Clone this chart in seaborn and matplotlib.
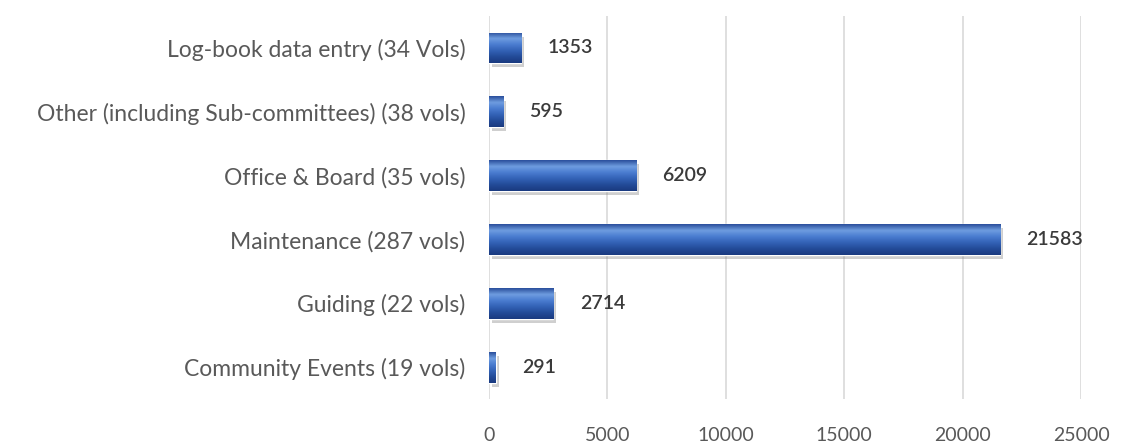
import numpy as np
import pandas as pd
import matplotlib
matplotlib.use("Agg")
import matplotlib.pyplot as plt
import matplotlib.patheffects as path_effects
from matplotlib.colors import LinearSegmentedColormap
import seaborn as sns

# --- Data ---
categories = [
    "Log-book data entry (34 Vols)",
    "Other (including Sub-committees) (38 vols)",
    "Office & Board (35 vols)",
    "Maintenance (287 vols)",
    "Guiding (22 vols)",
    "Community Events (19 vols)",
]
hours = [1353, 595, 6209, 21583, 2714, 291]
x_ticks = [0, 5000, 10000, 15000, 20000, 25000]

df = pd.DataFrame({"category": categories, "hours": hours})

# --- Style ---
sns.set_theme(style="white")
plt.rcParams['font.family'] = ['Lato', 'DejaVu Sans']

fig = plt.figure(figsize=(11.41, 4.44), dpi=100)
ax = fig.add_axes([0.4286, 0.101, 0.9475 - 0.4286, 0.863])

sns.barplot(data=df, x="hours", y="category", orient="h", color="#3a67b8",
            width=0.48, ax=ax, zorder=3)

# cylinder-like shading: light top, dark bottom
cyl = LinearSegmentedColormap.from_list(
    "cyl", ["#2a4f9c", "#6f9de0", "#4a7cd0", "#3362b6", "#234b98", "#1a3a80"])
grad = np.linspace(0, 1, 64).reshape(-1, 1)
shadow = [path_effects.SimplePatchShadow(offset=(2, -3), shadow_rgbFace="#888888", alpha=0.4),
          path_effects.Normal()]
for bar in ax.patches:
    x0, y0 = bar.get_x(), bar.get_y()
    w, h = bar.get_width(), bar.get_height()
    bar.set_path_effects(shadow)
    im = ax.imshow(grad, cmap=cyl, aspect="auto", zorder=4,
                   extent=(x0, x0 + w, y0 + h, y0), interpolation="bicubic")
    im.set_clip_path(bar)

# value labels
for i, v in enumerate(hours):
    ax.annotate(f"{v}", xy=(v, i), xytext=(19, 0), textcoords="offset points",
                va="center", ha="left", fontsize=14, color="#3a3a3a",
                fontweight="semibold", zorder=5)

ax.set_xlim(0, 25000)
ax.set_ylim(5.5, -0.5)
ax.set_xticks(x_ticks)
ax.set_xticklabels([str(t) for t in x_ticks])
ax.xaxis.grid(True, color="#d9d9d9", linewidth=1.2, zorder=0)
ax.set_axisbelow(True)
for s in ax.spines.values():
    s.set_visible(False)
ax.set_xlabel("")
ax.set_ylabel("")
ax.tick_params(axis="x", colors="#595959", labelsize=14, length=0, pad=20)
ax.tick_params(axis="y", colors="#595959", labelsize=16.5, length=0, pad=17)

fig.savefig("out.png", dpi=100, facecolor="white")
